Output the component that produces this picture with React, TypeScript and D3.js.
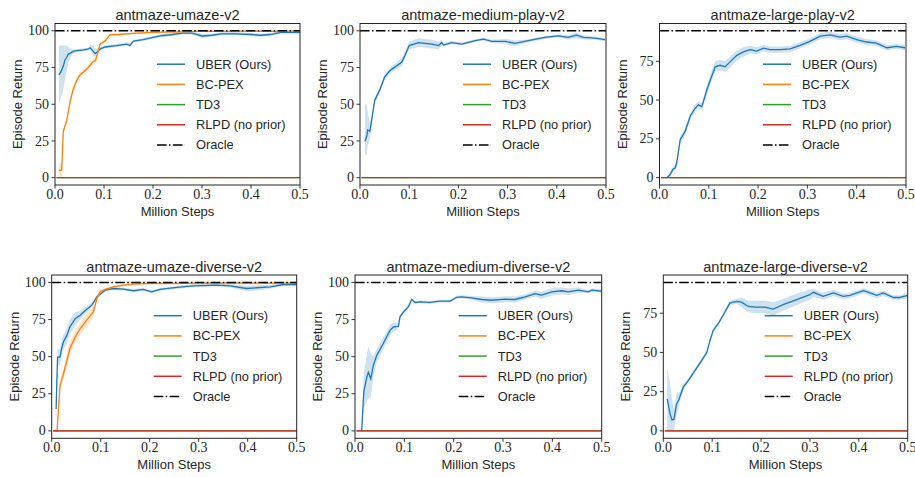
import React from "react";
import * as d3 from "d3";

type Pt = [number, number, number, number]; // step (M), mean, lower, upper

const titles = [
  "antmaze-umaze-v2",
  "antmaze-medium-play-v2",
  "antmaze-large-play-v2",
  "antmaze-umaze-diverse-v2",
  "antmaze-medium-diverse-v2",
  "antmaze-large-diverse-v2",
];
const xTicks = [0, 0.1, 0.2, 0.3, 0.4, 0.5];
const yTicks = [0, 25, 50, 75, 100];
const legendLabels = ["UBER (Ours)", "BC-PEX", "TD3", "RLPD (no prior)", "Oracle"];
const seriesColors = ["#1f77b4", "#ff7f0e", "#2ca02c", "#d62728", "#000000"];
const oracleValues = [100, 100, 94.6, 100, 100, 94.6];
const zeroBaseline: [number, number][] = [
  [0.003, 0],
  [0.5, 0],
];

const uberUmaze: Pt[] = [
  [0.008, 70, 50, 90], [0.012, 72, 55, 90], [0.017, 76, 60, 90], [0.02, 80, 66, 90],
  [0.024, 82, 73, 90], [0.027, 84, 78, 89], [0.032, 85, 82, 88], [0.037, 86, 84.5, 87.5],
  [0.045, 86.5, 85.5, 87.5], [0.058, 87, 86, 88], [0.067, 87.5, 86.5, 88.5], [0.072, 88.5, 87, 90.5],
  [0.078, 86, 83, 90], [0.082, 84.5, 82, 88], [0.086, 85.5, 83.5, 88], [0.092, 87.6, 86.5, 89],
  [0.102, 89, 88, 90], [0.126, 90, 89, 91], [0.146, 91, 90, 92], [0.153, 90, 89, 91.5],
  [0.16, 93, 92, 94], [0.18, 94, 93, 95], [0.2, 95.5, 94.5, 96.5], [0.214, 96.6, 95.5, 97.5],
  [0.24, 97.5, 96.5, 98.5], [0.26, 98.5, 97.5, 99.5], [0.28, 98.5, 97.5, 99.5], [0.3, 96.5, 95, 98],
  [0.32, 97, 96, 98], [0.34, 98, 97, 99], [0.37, 98, 97, 99], [0.4, 97.5, 96.5, 98.5],
  [0.42, 97, 96, 98], [0.44, 97.5, 96.5, 98.5], [0.46, 99, 98, 100], [0.48, 99, 98, 100],
  [0.5, 99, 98, 100],
];

const bcpexUmaze: Pt[] = [
  [0.008, 5, 0, 10], [0.0136, 5, 0, 10], [0.017, 31.5, 30, 33], [0.024, 39, 37, 41],
  [0.031, 52, 50, 54], [0.037, 60, 58, 62], [0.044, 66, 64, 68], [0.051, 70, 68.5, 71.5],
  [0.065, 74, 72.5, 75.5], [0.078, 79, 77.5, 80.5], [0.083, 80, 78.5, 81.5], [0.092, 91, 89.5, 92.5],
  [0.102, 93, 92, 94], [0.112, 97.3, 96.5, 98], [0.13, 97.5, 96.8, 98.2], [0.16, 98.3, 97.6, 99],
  [0.2, 99, 98.3, 99.7], [0.25, 99.3, 98.6, 100], [0.3, 99.8, 99.2, 100.4], [0.35, 99.7, 99.1, 100.3],
  [0.4, 99.8, 99.2, 100.4], [0.45, 99.7, 99.1, 100.3], [0.5, 99.8, 99.2, 100.4],
];

const uberMediumPlay: Pt[] = [
  [0.01, 24.7, 15, 50], [0.0135, 28, 16, 50], [0.0156, 32.6, 22, 45], [0.02, 31.5, 26, 37],
  [0.025, 42, 39, 45], [0.03, 52.8, 50.5, 55], [0.04, 59.6, 57.5, 61.5], [0.05, 68.5, 66.5, 70.5],
  [0.061, 73, 71, 75], [0.071, 75.3, 73, 77.5], [0.085, 78.7, 76, 81.5], [0.091, 83, 80.5, 85.5],
  [0.1, 90, 87.5, 92.5], [0.119, 92, 89, 95], [0.146, 91, 88, 94], [0.16, 90, 87.5, 92.5],
  [0.166, 92, 90, 94], [0.17, 90.3, 89, 91.5], [0.186, 92, 91, 93], [0.207, 91, 90, 92],
  [0.234, 93.3, 92.3, 94.3], [0.251, 94.4, 93.4, 95.4], [0.268, 92.8, 91.8, 93.8], [0.295, 92.8, 91, 94.6],
  [0.315, 91.5, 89.5, 93.5], [0.342, 93.3, 92.3, 94.3], [0.376, 95.5, 94.5, 96.5], [0.403, 96.6, 95.6, 97.6],
  [0.423, 95.5, 94, 97], [0.44, 97, 95, 99], [0.454, 95.5, 94, 97], [0.478, 95, 94, 96],
  [0.498, 94, 93, 95],
];

const uberLargePlay: Pt[] = [
  [0.015, 0, 0, 0.5], [0.0216, 2, 0.5, 3.5], [0.027, 5.3, 3.5, 7], [0.032, 6.4, 4.5, 8.5],
  [0.035, 9.6, 7.5, 12], [0.042, 24.5, 22, 27], [0.052, 29.8, 27.5, 32], [0.062, 39.4, 37, 41.5],
  [0.072, 44.7, 42.5, 47], [0.079, 46.9, 44.5, 49], [0.086, 45.8, 43.5, 48], [0.096, 56.5, 53.5, 59.5],
  [0.103, 62.9, 59.5, 66.5], [0.113, 71.4, 68, 75], [0.123, 72.4, 69, 76], [0.133, 71.4, 68, 75],
  [0.143, 74.6, 71, 78], [0.157, 78.8, 75.5, 82], [0.17, 81, 78, 84], [0.184, 82.5, 80, 85],
  [0.197, 81.6, 79.5, 84], [0.211, 83.5, 81.5, 85.5], [0.224, 82.5, 80.5, 84.5], [0.245, 82.5, 80.5, 84.5],
  [0.265, 83, 81, 85], [0.285, 85.2, 83.2, 87.2], [0.305, 87.8, 85.8, 89.8], [0.326, 91.2, 89.2, 93.2],
  [0.346, 92, 90, 94], [0.366, 90.6, 88.6, 92.6], [0.38, 91.2, 89.2, 93.2], [0.4, 88.9, 87, 90.8],
  [0.42, 87.4, 85.5, 89.3], [0.44, 86.7, 85, 88.4], [0.461, 83.7, 82, 85.4], [0.481, 84.6, 83, 86.2],
  [0.498, 83.7, 82, 85.4],
];

const uberUmazeDiverse: Pt[] = [
  [0.009, 14.7, 0, 30], [0.012, 49.7, 45, 55], [0.017, 49.7, 44, 55], [0.02, 55, 50, 60],
  [0.024, 60, 55, 65], [0.031, 64.3, 59, 69.5], [0.037, 70, 65, 75], [0.048, 75.6, 71, 80],
  [0.058, 77.9, 75, 81], [0.071, 81.7, 79.5, 84], [0.082, 84.7, 83, 86.5], [0.088, 88, 86.5, 89.5],
  [0.092, 90.3, 89, 91.5], [0.099, 92, 91, 93], [0.109, 94.8, 93.8, 95.8], [0.126, 95.9, 94.9, 96.9],
  [0.146, 95.5, 94.5, 96.5], [0.167, 94.4, 93.4, 95.4], [0.187, 95.3, 94.3, 96.3], [0.204, 93.7, 92.7, 94.7],
  [0.221, 95.3, 94.3, 96.3], [0.255, 96.6, 95.6, 97.6], [0.289, 97.7, 96.7, 98.7], [0.337, 98.2, 97.2, 99.2],
  [0.364, 97.7, 96.5, 98.9], [0.398, 95.9, 94, 97.8], [0.418, 96.4, 94.6, 98.2], [0.446, 97, 95.8, 98.2],
  [0.473, 98.6, 97.6, 99.6], [0.5, 98.6, 97.6, 99.6],
];

const bcpexUmazeDiverse: Pt[] = [
  [0.007, 0, 0, 0], [0.011, 0, 0, 1], [0.017, 30.5, 28, 33], [0.024, 38.4, 35, 42],
  [0.031, 47.4, 43, 52], [0.037, 55.3, 51, 59.5], [0.048, 63.2, 59, 67.5], [0.058, 68.8, 64.5, 73],
  [0.071, 74.5, 70.5, 78.5], [0.082, 79, 75, 83], [0.085, 80, 76.5, 83.5], [0.092, 89, 86.5, 91.5],
  [0.099, 93.7, 92, 95.4], [0.109, 95.3, 94.3, 96.3], [0.126, 97, 96.2, 97.8], [0.146, 98.2, 97.4, 99],
  [0.167, 98.9, 98.1, 99.7], [0.2, 99.3, 98.5, 100.1], [0.25, 99.3, 98.5, 100.1], [0.3, 99.5, 98.7, 100.3],
  [0.35, 99.5, 98.7, 100.3], [0.4, 99.5, 98.7, 100.3], [0.45, 99.5, 98.7, 100.3], [0.5, 99.5, 98.7, 100.3],
];

const uberMediumDiverse: Pt[] = [
  [0.0135, 0, 0, 0], [0.018, 27, 15, 40], [0.024, 36, 20, 51], [0.027, 39.5, 22, 57],
  [0.032, 35, 23, 52], [0.037, 44, 36, 50], [0.044, 50.8, 46, 55], [0.057, 58.7, 55, 62.5],
  [0.071, 67.7, 64, 71.5], [0.078, 70, 67, 73], [0.088, 70.4, 68.5, 72.5], [0.091, 76.7, 75, 78.5],
  [0.098, 80, 78.5, 81.5], [0.108, 83.5, 82, 85], [0.115, 88.5, 87.5, 89.5], [0.122, 86.5, 85.5, 87.5],
  [0.132, 86.9, 85.9, 87.9], [0.152, 86.5, 85.5, 87.5], [0.172, 87.4, 86.4, 88.4], [0.193, 87.4, 86.4, 88.4],
  [0.206, 90, 89, 91], [0.216, 90.3, 89.3, 91.3], [0.236, 89.6, 88.4, 90.8], [0.257, 88.5, 86.5, 90.5],
  [0.277, 88, 86, 90], [0.304, 88.7, 86.7, 90.7], [0.324, 88.5, 86.5, 90.5], [0.345, 90.3, 88.5, 92.1],
  [0.365, 92.5, 90.5, 94.5], [0.378, 91.4, 89, 93.8], [0.399, 93.7, 91.2, 96.2], [0.419, 94.4, 92, 96.8],
  [0.432, 93.7, 91.5, 95.9], [0.453, 94.8, 93, 96.6], [0.473, 93.7, 92.5, 94.9], [0.48, 94.8, 93.6, 96],
  [0.5, 94.1, 93, 95.2],
];

const uberLargeDiverse: Pt[] = [
  [0.008, 20.4, 0, 40], [0.014, 10.7, 0, 30], [0.018, 6.9, 0, 20], [0.022, 7.5, 0, 14],
  [0.027, 17, 10, 24], [0.032, 20, 16, 24], [0.041, 28, 26, 30], [0.051, 32, 30.5, 33.5],
  [0.065, 38.6, 37, 40], [0.085, 48, 46.5, 49.5], [0.089, 50, 48.5, 51.5], [0.095, 57, 55.5, 58.5],
  [0.102, 64, 62.5, 65.5], [0.113, 68.6, 67, 70], [0.123, 74, 72.5, 75.5], [0.136, 81.4, 80, 83],
  [0.15, 82.5, 81, 84], [0.16, 82, 79, 85], [0.174, 79.3, 75.5, 83], [0.188, 78.9, 75, 83],
  [0.208, 78.9, 75, 83], [0.225, 77.6, 73.5, 82], [0.245, 80.4, 76.5, 84], [0.273, 83.6, 80, 87.5],
  [0.3, 86.8, 83.5, 90], [0.307, 88.3, 85.5, 90.5], [0.327, 85.7, 83.5, 88], [0.348, 87.9, 86, 90],
  [0.368, 85.7, 84, 87.5], [0.382, 86.4, 84.5, 88], [0.396, 87.9, 86, 89.5], [0.41, 89.4, 87.5, 91],
  [0.423, 87.9, 86, 89.5], [0.437, 86.4, 84.5, 88], [0.45, 87.9, 86, 89.5], [0.471, 85, 83.5, 86.5],
  [0.484, 85, 83.5, 86.5], [0.5, 86.4, 84.5, 88],
];

const uberSeries: Pt[][] = [uberUmaze, uberMediumPlay, uberLargePlay, uberUmazeDiverse, uberMediumDiverse, uberLargeDiverse];
const bcpexSeries: (Pt[] | null)[] = [bcpexUmaze, null, null, bcpexUmazeDiverse, null, null];

// layout (pixels)
const W = 915;
const H = 477;
const panelRects = [
  { left: 55, right: 300, top: 23.5, bottom: 185 },
  { left: 360, right: 606, top: 23.5, bottom: 185 },
  { left: 659.5, right: 906, top: 23.5, bottom: 185 },
  { left: 51.7, right: 296.7, top: 275, bottom: 438.3 },
  { left: 355, right: 601.7, top: 275, bottom: 438.3 },
  { left: 663.3, right: 907.7, top: 275, bottom: 438.3 },
];

const SANS = "'Liberation Sans', Arial, Helvetica, sans-serif";
const SERIF = "'Liberation Serif', 'Times New Roman', serif";
const DASHDOT = "9.6,2.4,1.5,2.4";
const TEXT = "#262626";

function Panel({ i }: { i: number }) {
  const r = panelRects[i];
  const oracle = oracleValues[i];
  const x = d3.scaleLinear().domain([0, 0.5]).range([r.left, r.right]);
  const y = d3.scaleLinear().domain([-0.05 * oracle, 1.05 * oracle]).range([r.bottom, r.top]);
  const line = d3.line<Pt>().x((d) => x(d[0])).y((d) => y(d[1]));
  const area = d3.area<Pt>().x((d) => x(d[0])).y0((d) => y(d[2])).y1((d) => y(d[3]));
  const flat = d3.line<[number, number]>().x((d) => x(d[0])).y((d) => y(d[1]));
  const clipId = `clip${i}`;
  const uber = uberSeries[i];
  const bc = bcpexSeries[i];
  const yt = yTicks.filter((t) => t <= y.domain()[1]);
  const lx = r.right - 143;
  const ly0 = r.top + 40.7;
  const cx = (r.left + r.right) / 2;
  const cy = (r.top + r.bottom) / 2;

  return (
    <g>
      <defs>
        <clipPath id={clipId}>
          <rect x={r.left} y={r.top} width={r.right - r.left} height={r.bottom - r.top} />
        </clipPath>
      </defs>
      <g clipPath={`url(#${clipId})`}>
        <path d={area(uber) || ""} fill={seriesColors[0]} fillOpacity={0.22} stroke="none" />
        <path d={line(uber) || ""} fill="none" stroke={seriesColors[0]} strokeWidth={1.3} />
        {bc && <path d={area(bc) || ""} fill={seriesColors[1]} fillOpacity={0.22} stroke="none" />}
        {bc && <path d={line(bc) || ""} fill="none" stroke={seriesColors[1]} strokeWidth={1.3} />}
        <path d={flat(zeroBaseline) || ""} fill="none" stroke={seriesColors[2]} strokeWidth={1.4} />
        <path d={flat(zeroBaseline) || ""} fill="none" stroke={seriesColors[3]} strokeWidth={1.4} />
        <line x1={r.left} x2={r.right} y1={y(oracle)} y2={y(oracle)} stroke="#000" strokeWidth={1.5} strokeDasharray={DASHDOT} />
      </g>
      <rect x={r.left} y={r.top} width={r.right - r.left} height={r.bottom - r.top} fill="none" stroke="#222" strokeWidth={1} />
      {xTicks.map((t) => (
        <g key={`x${t}`}>
          <line x1={x(t)} x2={x(t)} y1={r.bottom} y2={r.bottom + 3.5} stroke="#222" strokeWidth={0.9} />
          <text x={x(t)} y={r.bottom + 13.5} textAnchor="middle" fontFamily={SERIF} fontSize={14} fill={TEXT}>
            {t.toFixed(1)}
          </text>
        </g>
      ))}
      {yt.map((t) => (
        <g key={`y${t}`}>
          <line x1={r.left - 3.5} x2={r.left} y1={y(t)} y2={y(t)} stroke="#222" strokeWidth={0.9} />
          <text x={r.left - 6} y={y(t)} dy="0.33em" textAnchor="end" fontFamily={SERIF} fontSize={14} fill={TEXT}>
            {t}
          </text>
        </g>
      ))}
      <text x={cx} y={r.top - 3.5} textAnchor="middle" fontFamily={SANS} fontSize={14.5} fill={TEXT}>
        {titles[i]}
      </text>
      <text x={cx} y={r.bottom + 30.5} textAnchor="middle" fontFamily={SANS} fontSize={13} fill={TEXT}>
        Million Steps
      </text>
      <text
        x={0}
        y={0}
        transform={`translate(${r.left - 37.5},${cy}) rotate(-90)`}
        dy="0.35em"
        textAnchor="middle"
        fontFamily={SANS}
        fontSize={13}
        fill={TEXT}
      >
        Episode Return
      </text>
      {legendLabels.map((lab, k) => {
        const yy = ly0 + 20.2 * k;
        const isOracle = k === 4;
        return (
          <g key={lab}>
            <line
              x1={lx}
              x2={lx + 28}
              y1={yy}
              y2={yy}
              stroke={seriesColors[k]}
              strokeWidth={1.5}
              strokeDasharray={isOracle ? DASHDOT : undefined}
            />
            <text x={lx + 39} y={yy} dy="0.35em" fontFamily={SANS} fontSize={12.8} fill={TEXT}>
              {lab}
            </text>
          </g>
        );
      })}
    </g>
  );
}

export default function App() {
  return (
    <svg
      width={W}
      height={H}
      viewBox={`0 0 ${W} ${H}`}
      style={{ position: "fixed", left: 0, top: 0, background: "#fff" }}
    >
      <rect x={0} y={0} width={W} height={H} fill="#fff" />
      {panelRects.map((_, i) => (
        <Panel key={i} i={i} />
      ))}
    </svg>
  );
}
